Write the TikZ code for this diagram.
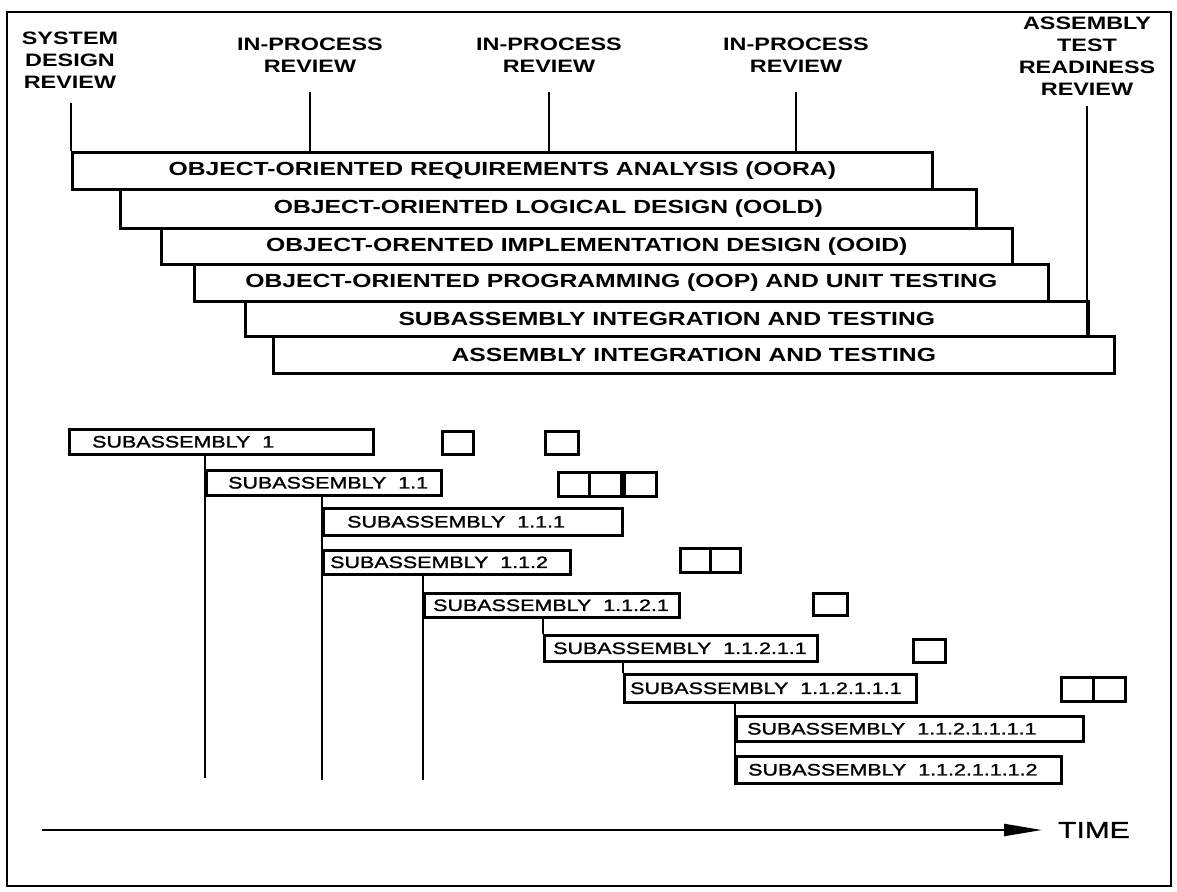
\documentclass[tikz,border=0pt]{standalone}
\usepackage{fontspec}
\setmainfont{Liberation Sans}
\newfontfamily\wideb{Liberation Sans}[FakeStretch=1.3]
\newfontfamily\widem{Liberation Sans}[FakeStretch=1.3, FakeBold=1.4]
\usetikzlibrary{arrows.meta}
\begin{document}
\begin{tikzpicture}[x=1pt,y=-1pt,
  rev/.style={font=\wideb\bfseries\fontsize{18}{22}\selectfont, align=center, inner sep=0pt},
  bar/.style={draw, line width=2.6pt, fill=white, anchor=north west, inner sep=0pt,
    font=\wideb\bfseries\fontsize{19}{22}\selectfont},
  subbox/.style={draw, line width=2.6pt, fill=white, anchor=north west, inner sep=0pt},
  subtxt/.style={anchor=west, inner sep=0pt, font=\widem\fontsize{16.5}{18}\selectfont},
  sq/.style={draw, line width=2.6pt, anchor=north west, inner sep=0pt},
  conn/.style={line width=2.4pt}
]
\useasboundingbox (0,0) rectangle (1177,891);
\draw[line width=2.6pt] (7,12) rectangle (1171,886);

% review labels
\node[rev] (sdr) at (70,60) {SYSTEM\\DESIGN\\REVIEW};
\node[rev] (ip1) at (310,55) {IN-PROCESS\\REVIEW};
\node[rev] (ip2) at (549,55) {IN-PROCESS\\REVIEW};
\node[rev] (ip3) at (796,55) {IN-PROCESS\\REVIEW};
\node[rev] (atr) at (1087,56) {ASSEMBLY\\TEST\\READINESS\\REVIEW};

% phase bars
\node[bar, minimum width=860pt, minimum height=37pt] (oora) at (71,151) {OBJECT-ORIENTED REQUIREMENTS ANALYSIS (OORA)};
\node[bar, minimum width=856pt, minimum height=39pt] (oold) at (119,188) {OBJECT-ORIENTED LOGICAL DESIGN (OOLD)};
\node[bar, minimum width=851pt, minimum height=36pt] (ooid) at (160,227) {OBJECT-ORENTED IMPLEMENTATION DESIGN (OOID)};
\node[bar, minimum width=854pt, minimum height=37pt] (oop) at (193,263) {OBJECT-ORIENTED PROGRAMMING (OOP) AND UNIT TESTING};
\node[bar, minimum width=843pt, minimum height=35pt] (sit) at (244,300) {SUBASSEMBLY INTEGRATION AND TESTING};
\node[bar, minimum width=841pt, minimum height=37pt] (ait) at (272,335) {ASSEMBLY INTEGRATION AND TESTING};

% review connectors
\draw[conn, shorten <=15pt] ([xshift=1pt]sdr.south) -- ([xshift=1pt]sdr.south |- oora.north);
\draw[conn, shorten <=20pt] (ip1.south) -- (ip1.south |- oora.north);
\draw[conn, shorten <=20pt] (ip2.south) -- (ip2.south |- oora.north);
\draw[conn, shorten <=20pt] (ip3.south) -- (ip3.south |- oora.north);
\draw[conn, shorten <=11pt] (atr.south) -- (atr.south |- sit.south);

% subassembly boxes
\node[subbox, minimum width=304pt, minimum height=25pt] (s1) at (68,428) {};
\node[subtxt] (s1t) at ([xshift=24pt]s1.west) {SUBASSEMBLY~~1};
\node[subbox, minimum width=235pt, minimum height=25pt] (s11) at (205,469) {};
\node[subtxt] (s11t) at ([xshift=23pt]s11.west) {SUBASSEMBLY~~1.1};
\node[subbox, minimum width=299pt, minimum height=27pt] (s111) at (322,507) {};
\node[subtxt] (s111t) at ([xshift=25pt]s111.west) {SUBASSEMBLY~~1.1.1};
\node[subbox, minimum width=247pt, minimum height=24pt] (s112) at (322,549) {};
\node[subtxt] (s112t) at ([xshift=8pt]s112.west) {SUBASSEMBLY~~1.1.2};
\node[subbox, minimum width=255pt, minimum height=24pt] (s1121) at (423,592) {};
\node[subtxt] (s1121t) at ([xshift=10pt]s1121.west) {SUBASSEMBLY~~1.1.2.1};
\node[subbox, minimum width=273pt, minimum height=26pt] (s11211) at (543,634) {};
\node[subtxt] (s11211t) at ([xshift=10pt]s11211.west) {SUBASSEMBLY~~1.1.2.1.1};
\node[subbox, minimum width=292pt, minimum height=28pt] (s112111) at (623,673) {};
\node[subtxt] (s112111t) at ([xshift=7pt]s112111.west) {SUBASSEMBLY~~1.1.2.1.1.1};
\node[subbox, minimum width=347pt, minimum height=25pt] (s1121111) at (735,715) {};
\node[subtxt] (s1121111t) at ([xshift=12pt]s1121111.west) {SUBASSEMBLY~~1.1.2.1.1.1.1};
\node[subbox, minimum width=325pt, minimum height=27pt] (s1121112) at (735,755) {};
\node[subtxt] (s1121112t) at ([xshift=13pt]s1121112.west) {SUBASSEMBLY~~1.1.2.1.1.1.2};

% tree connectors
\coordinate (e1) at (205,778);
\coordinate (e2) at (322,780);
\coordinate (e3) at (423,780);
\draw[conn] (e1 |- s1.south) -- (e1);
\draw[conn] (e2 |- s11.south) -- (e2);
\draw[conn] (e3 |- s112.south) -- (e3);
\draw[conn] (s11211.north west |- s1121.south) -- (s11211.north west);
\draw[conn] (s112111.north west |- s11211.south) -- (s112111.north west);
\draw[conn] (s1121111.north west |- s112111.south) -- (s1121112.south west);

% small squares
\node[sq, minimum width=31pt, minimum height=23pt] (q1) at (441,430) {};
\node[sq, minimum width=33pt, minimum height=23pt] (q2) at (544,430) {};
\node[sq, minimum width=31pt, minimum height=24pt] (q3) at (557,471) {};
\node[sq, minimum width=32pt, minimum height=24pt] (q4) at (588,471) {};
\node[sq, minimum width=32pt, minimum height=24pt] (q5) at (623,471) {};
\node[sq, minimum width=30pt, minimum height=24pt] (q6) at (679,547) {};
\node[sq, minimum width=30pt, minimum height=24pt] (q7) at (709,547) {};
\node[sq, minimum width=34pt, minimum height=22pt] (q8) at (812,592) {};
\node[sq, minimum width=32pt, minimum height=23pt] (q9) at (912,638) {};
\node[sq, minimum width=32pt, minimum height=24pt] (q10) at (1060,676) {};
\node[sq, minimum width=32pt, minimum height=24pt] (q11) at (1092,676) {};

% time axis
\coordinate (t0) at (42,830);
\node[anchor=west, inner sep=0pt, font=\widem\fontsize{23}{26}\selectfont] (time) at (1058,830) {TIME};
\draw[line width=2.2pt, -{Triangle[length=38pt,width=12pt]}, shorten >=16pt] (t0) -- (time.west);
\end{tikzpicture}
\end{document}
